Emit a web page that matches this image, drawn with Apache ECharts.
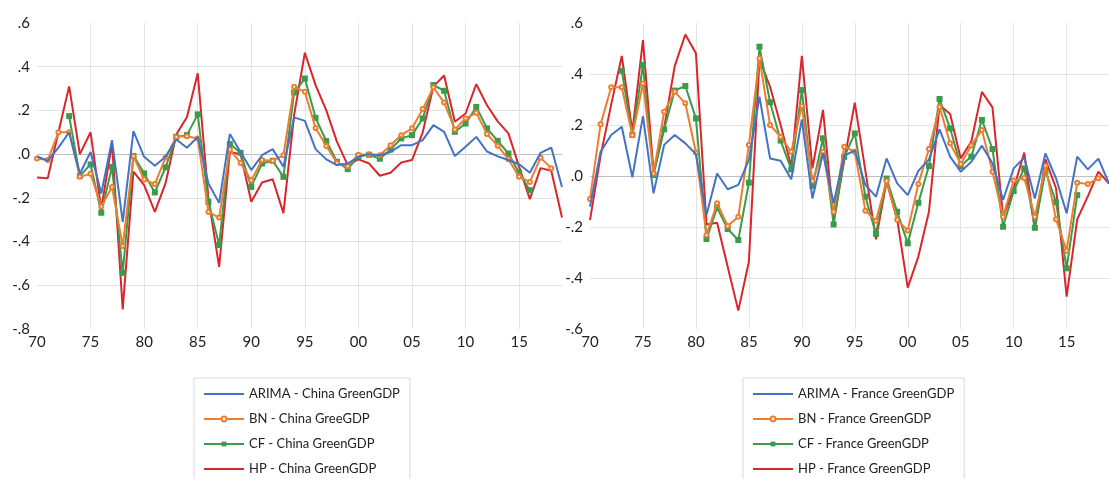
<!DOCTYPE html>
<html>
<head>
<meta charset="utf-8">
<script src="https://cdn.jsdelivr.net/npm/echarts@6/dist/echarts.min.js"></script>
<style>
  html, body { margin: 0; padding: 0; background: #fff; }
  #chart { width: 1109px; height: 479px; }
</style>
</head>
<body>
<div id="chart"></div>
<script>
const years = []
for (let y = 1970; y <= 2019; y++) years.push(String(y))

// China GreenGDP cycles, 1970-2019
const chinaArima = [
  -0.01, -0.03, 0.03, 0.10, -0.09, 0.01, -0.18, 0.064, -0.31, 0.105,
  -0.012, -0.053, -0.012, 0.067, 0.029, 0.079, -0.134, -0.223, 0.092, 0.01,
  -0.073, -0.005, 0.023, -0.058, 0.168, 0.152, 0.023, -0.024, -0.05, -0.043,
  -0.012, 0.0, -0.005, 0.01, 0.041, 0.041, 0.064, 0.133, 0.102, -0.009,
  0.034, 0.079, 0.012, -0.01, -0.027, -0.046, -0.085, 0.006, 0.03, -0.15
]
const chinaBN = [
  -0.02, -0.027, 0.10, 0.10, -0.104, -0.09, -0.24, -0.15, -0.42, -0.01,
  -0.116, -0.137, -0.015, 0.079, 0.082, 0.072, -0.265, -0.29, 0.021, -0.04,
  -0.12, -0.027, -0.03, -0.005, 0.308, 0.285, 0.12, 0.037, -0.04, -0.055,
  -0.003, 0.0, -0.005, 0.041, 0.087, 0.118, 0.206, 0.305, 0.236, 0.113,
  0.163, 0.189, 0.092, 0.038, -0.023, -0.104, -0.127, -0.017, -0.064, null
]
const chinaCF = [
  null, null, null, 0.174, -0.10, -0.047, -0.268, -0.058, -0.543, -0.008,
  -0.088, -0.175, -0.06, 0.079, 0.087, 0.182, -0.218, -0.416, 0.046, 0.006,
  -0.15, -0.043, -0.03, -0.104, 0.282, 0.346, 0.166, 0.06, -0.035, -0.069,
  -0.009, -0.003, -0.021, 0.021, 0.072, 0.087, 0.163, 0.316, 0.29, 0.102,
  0.14, 0.216, 0.118, 0.061, 0.003, -0.085, -0.165, null, null, null
]
const chinaHP = [
  -0.107, -0.11, 0.10, 0.31, 0.0, 0.10, -0.25, 0.05, -0.71, -0.08,
  -0.142, -0.264, -0.133, 0.09, 0.17, 0.37, -0.2, -0.516, 0.01, 0.0,
  -0.218, -0.13, -0.115, -0.27, 0.18, 0.464, 0.316, 0.20, 0.056, -0.05,
  -0.024, -0.043, -0.099, -0.085, -0.038, -0.027, 0.10, 0.31, 0.36, 0.148,
  0.186, 0.32, 0.224, 0.15, 0.095, -0.058, -0.206, -0.064, -0.076, -0.29
]

// France GreenGDP cycles, 1970-2019
const franceArima = [
  -0.12, 0.095, 0.161, 0.193, -0.005, 0.235, -0.068, 0.122, 0.161, 0.128,
  0.086, -0.153, 0.01, -0.052, -0.035, 0.063, 0.311, 0.069, 0.06, -0.013,
  0.222, -0.088, 0.09, -0.107, 0.08, 0.10, -0.035, -0.081, 0.069, -0.029,
  -0.075, 0.02, 0.065, 0.183, 0.076, 0.017, 0.056, 0.119, 0.05, -0.094,
  0.03, 0.072, -0.088, 0.089, -0.009, -0.146, 0.076, 0.026, 0.068, -0.03
]
const franceBN = [
  -0.09, 0.203, 0.348, 0.348, 0.16, 0.363, 0.01, 0.252, 0.33, 0.285,
  0.092, -0.231, -0.107, -0.196, -0.16, 0.122, 0.461, 0.2, 0.154, 0.095,
  0.275, -0.02, 0.095, -0.14, 0.115, 0.095, -0.136, -0.175, -0.02, -0.172,
  -0.214, -0.031, 0.106, 0.272, 0.128, 0.047, 0.12, 0.18, 0.017, -0.16,
  -0.018, -0.008, -0.16, 0.04, -0.17, -0.293, -0.026, -0.031, -0.009, null
]
const franceCF = [
  null, null, null, 0.413, 0.161, 0.435, 0.004, 0.183, 0.335, 0.353,
  0.226, -0.247, -0.124, -0.208, -0.251, -0.026, 0.507, 0.289, 0.139, 0.026,
  0.337, -0.039, 0.148, -0.19, 0.075, 0.167, -0.081, -0.227, -0.01, -0.14,
  -0.264, -0.105, 0.039, 0.302, 0.187, 0.039, 0.076, 0.22, 0.106, -0.199,
  -0.059, 0.03, -0.203, 0.02, -0.103, -0.362, -0.075, null, null, null
]
const franceHP = [
  -0.173, 0.08, 0.28, 0.471, 0.174, 0.533, 0.017, 0.19, 0.431, 0.555,
  0.481, -0.19, -0.183, -0.356, -0.528, -0.336, 0.457, 0.35, 0.2, 0.037,
  0.471, 0.03, 0.259, -0.179, 0.06, 0.288, 0.02, -0.248, -0.022, -0.17,
  -0.438, -0.316, -0.14, 0.278, 0.243, 0.069, 0.135, 0.33, 0.269, -0.16,
  -0.05, 0.092, -0.212, 0.065, -0.048, -0.473, -0.17, -0.08, 0.017, -0.03
]

const chinaNames = ['ARIMA - China GreenGDP', 'BN - China GreeGDP', 'CF - China GreenGDP', 'HP - China GreenGDP']
const franceNames = ['ARIMA - France GreenGDP', 'BN - France GreenGDP', 'CF - France GreenGDP', 'HP - France GreenGDP']

const colors = ['#4472c4', '#ed7d31', '#3a9b4a', '#d9262c']
const font = 'Lato, "Noto Sans", sans-serif'

const chart = echarts.init(document.getElementById('chart'), null, { renderer: 'canvas' })

const yLabel = (v) => {
  const n = Math.round(v * 10)
  if (n === 0) return '.0'
  return (n < 0 ? '-.' : '.') + Math.abs(n)
}
const xLabel = (v) => v.slice(2)

const gridColors = (count, zeroIdx) => {
  const arr = []
  for (let i = 0; i < count; i++) {
    if (i === 0 || i === count - 1) arr.push('rgba(0,0,0,0)')
    else if (i === zeroIdx) arr.push('#bfbfbf')
    else arr.push('#e3e3e3')
  }
  return arr
}

const makeX = (gridIndex) => ({
  type: 'category',
  gridIndex: gridIndex,
  data: years,
  boundaryGap: false,
  axisLine: { show: false },
  axisTick: { show: false },
  axisLabel: {
    interval: (i) => i % 5 === 0,
    formatter: xLabel,
    fontFamily: font,
    fontSize: 15,
    color: '#222',
    margin: 6,
  },
  splitLine: {
    show: true,
    interval: (i) => i % 5 === 0 && i > 0,
    lineStyle: { color: '#e3e3e3', width: 1 },
  },
})

const makeY = (gridIndex, min, max, zeroIdx) => ({
  type: 'value',
  gridIndex: gridIndex,
  min: min,
  max: max,
  interval: 0.2,
  axisLine: { show: false },
  axisTick: { show: false },
  axisLabel: {
    formatter: yLabel,
    fontFamily: font,
    fontSize: 15,
    color: '#222',
    margin: 7,
  },
  splitLine: {
    show: true,
    lineStyle: { color: gridColors(Math.round((max - min) / 0.2) + 1, zeroIdx), width: 1 },
  },
})

const makeSeries = (names, datas, idx) => names.map((name, i) => {
  const s = {
    name: name,
    type: 'line',
    xAxisIndex: idx,
    yAxisIndex: idx,
    data: datas[i],
    symbol: 'none',
    showAllSymbol: true,
    lineStyle: { color: colors[i], width: 2 },
    itemStyle: { color: colors[i] },
    emphasis: { disabled: true },
    z: 2 + (3 - i),
  }
  if (i === 1) {
    s.symbol = 'emptyCircle'
    s.symbolSize = 4
    s.itemStyle = { color: colors[i], borderWidth: 1 }
  }
  if (i === 2) {
    s.symbol = 'rect'
    s.symbolSize = 6
  }
  return s
})

// plain lines in the legend for the series drawn without markers
const legendItems = (names) => names.map((name, i) =>
  (i === 0 || i === 3) ? { name: name, itemStyle: { opacity: 0 } } : { name: name })

const makeLegend = (names, left) => ({
  data: legendItems(names),
  orient: 'vertical',
  left: left,
  top: 378,
  height: 140,
  padding: [9, 10, 30, 9],
  itemWidth: 40,
  itemHeight: 6,
  itemGap: 11,
  borderColor: '#d9d9d9',
  borderWidth: 1,
  textStyle: { fontFamily: font, fontSize: 13, lineHeight: 14, color: '#222' },
})

const option = {
  animation: false,
  backgroundColor: '#fff',
  grid: [
    { left: 37, top: 23, width: 525, height: 306 },
    { left: 590, top: 23, width: 524, height: 306 },
  ],
  xAxis: [makeX(0), makeX(1)],
  yAxis: [makeY(0, -0.8, 0.6, 4), makeY(1, -0.6, 0.6, 3)],
  legend: [makeLegend(chinaNames, 194), makeLegend(franceNames, 743)],
  series: [
    ...makeSeries(chinaNames, [chinaArima, chinaBN, chinaCF, chinaHP], 0),
    ...makeSeries(franceNames, [franceArima, franceBN, franceCF, franceHP], 1),
  ],
}

chart.setOption(option)
window.addEventListener('resize', () => chart.resize())
</script>
</body>
</html>
